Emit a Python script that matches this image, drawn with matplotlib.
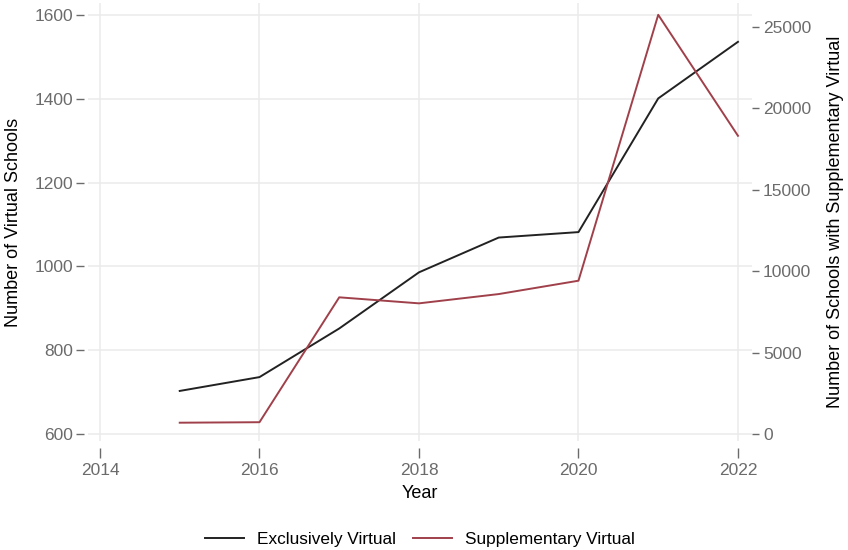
import numpy as np
import matplotlib
matplotlib.use("Agg")
import matplotlib.pyplot as plt
from matplotlib.lines import Line2D

plt.rcParams['font.family'] = ['Liberation Sans', 'DejaVu Sans']

years = [2015, 2016, 2017, 2018, 2019, 2020, 2021, 2022]
exclusive = [703, 736, 852, 986, 1069, 1082, 1401, 1536]
supplementary = [700, 730, 8400, 8030, 8600, 9420, 25750, 18320]

black = "#222222"
red = "#a0404a"
grid_c = "#ebebeb"
tick_c = "#6b6b6b"

fig = plt.figure(figsize=(8.48, 5.5), dpi=100)
ax = fig.add_axes([0.1038, 0.198, 0.783, 0.7965])
ax2 = ax.twinx()

ax.plot(years, exclusive, color=black, lw=1.4, zorder=3)
ax2.plot(years, supplementary, color=red, lw=1.4, zorder=3)

ax.set_xlim(2013.85, 2022.176)
ax.set_ylim(583.3, 1628.6)
ax2.set_ylim(-430, 26474)
ax.set_xticks([2014, 2016, 2018, 2020, 2022])
ax.set_yticks([600, 800, 1000, 1200, 1400, 1600])
ax2.set_yticks([0, 5000, 10000, 15000, 20000, 25000])

ax.grid(True, color=grid_c, lw=1.1, zorder=0)
ax.set_axisbelow(True)
for a in (ax, ax2):
    for s in a.spines.values():
        s.set_visible(False)
ax.spines['bottom'].set_position(('outward', 5))
ax.spines['left'].set_position(('outward', 3))

ax.tick_params(axis='x', colors=tick_c, labelsize=12.5, length=7, width=1, pad=3.5)
ax.tick_params(axis='y', colors=tick_c, labelsize=12.5, length=6, width=1, pad=1.5)
ax2.tick_params(axis='y', colors=tick_c, labelsize=12.5, length=5, width=1, pad=3)

ax.set_xlabel("Year", fontsize=13, color="black")
ax.set_ylabel("Number of Virtual Schools", fontsize=13, color="black")
ax2.set_ylabel("Number of Schools with Supplementary Virtual", fontsize=13, color="black")
ax.xaxis.set_label_coords(0.5, -0.10)
ax.yaxis.set_label_coords(-0.0994, 0.5)
ax2.yaxis.set_label_coords(1.113, 0.5)

handles = [Line2D([], [], color=black, lw=1.4), Line2D([], [], color=red, lw=1.4)]
fig.legend(handles, ["Exclusively Virtual", "Supplementary Virtual"], loc="center",
           bbox_to_anchor=(0.495, 0.02), ncol=2, frameon=False, fontsize=12.4,
           handlelength=2.3, columnspacing=0.95, handletextpad=0.75)

fig.savefig("out.png", dpi=100)
